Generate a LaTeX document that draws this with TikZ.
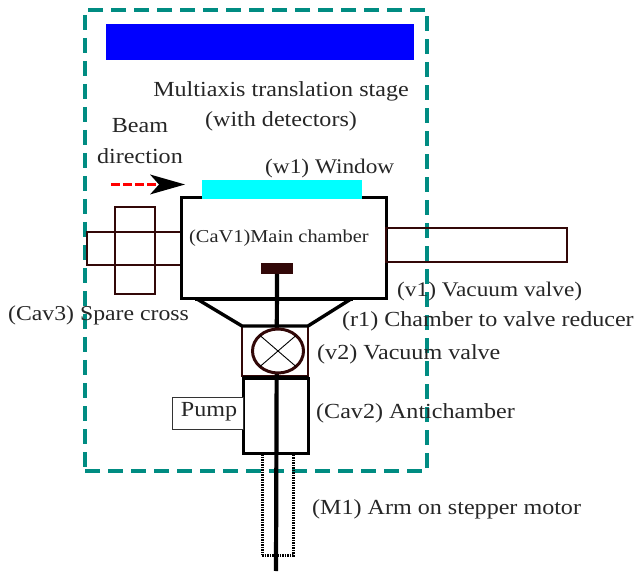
\documentclass[tikz,border=0pt]{standalone}
\usepackage{fontspec}
\setmainfont[FakeStretch=1.12]{Liberation Serif}
\usetikzlibrary{arrows.meta,shapes.geometric}
\definecolor{tealdash}{RGB}{0,140,130}
\definecolor{darkbrown}{RGB}{50,8,8}
\definecolor{purecyan}{RGB}{0,255,255}
\definecolor{pureblue}{RGB}{0,0,255}
\definecolor{purered}{RGB}{255,0,0}
\tikzset{
  lab/.style={anchor=west,inner sep=0pt,font=\fontsize{21.5}{21.5}\selectfont,text=black!85},
  midlab/.style={anchor=center,inner sep=0pt,font=\fontsize{21.5}{21.5}\selectfont,text=black!85},
  pipe/.style={draw=darkbrown,line width=2.2pt},
  vessel/.style={draw=black,line width=3pt,fill=white},
  rect/.style={minimum width=0pt,minimum height=0pt,inner sep=0pt,outer sep=0pt},
  thick line/.style={line width=4.2pt,draw=black}
}
\begin{document}
\begin{tikzpicture}[x=1pt,y=-1pt]
\useasboundingbox (0,0) rectangle (635,572);
% outer stage outline and blue bar
\node[rect,draw=tealdash,line width=3.2pt,dash pattern=on 15pt off 8pt,minimum width=342pt,minimum height=461pt] (stage) at (256,240.5) {};
\node[rect,fill=pureblue,minimum width=308pt,minimum height=36pt] (bar) at (260,42) {};
% cross
\node[rect,pipe,minimum width=94pt,minimum height=33pt] (crossH) at (134,248.5) {};
\node[rect,pipe,minimum width=40pt,minimum height=87pt] (crossV) at (135,250.5) {};
% main chamber
\node[rect,vessel,minimum width=205pt,minimum height=101pt] (main) at (283.5,248.5) {};
\node[rect,fill=purecyan,minimum width=160pt,minimum height=19pt] (window) at (282,189.5) {};
% right valve
\node[rect,draw=darkbrown,line width=2.8pt,minimum width=181pt,minimum height=34pt] (v1) at (476.5,245) {};
% v2 valve
\node[rect,draw=darkbrown,line width=1.3pt,minimum width=66pt,minimum height=50pt] (v2) at (275,351) {};
% antichamber
\node[rect,vessel,minimum width=65pt,minimum height=75pt] (anti) at (275.5,415.5) {};
\node[rect,draw=black!80,line width=.9pt,minimum width=71pt,minimum height=32pt,fill=white] (pump) at (207.5,413) {};
\node[midlab] at (209,412) {Pump};
% dotted motor housing
\node[rect,draw=black,line width=3pt,dash pattern=on 1.5pt off 1pt,minimum width=31pt,minimum height=102pt] (housing) at (277.5,504) {};
% reducer
\coordinate (rTL) at (195,299);
\coordinate (rTR) at (353,299);
\draw[thick line] (rTL) -- (rTR);
\draw[line width=3.4pt] (197,299) -- (v2.north west) -- (v2.north east) -- (351,299);
% arm
\node[rect,fill=darkbrown,minimum width=32pt,minimum height=11pt] (sample) at (277,268.5) {};
\coordinate (armEnd) at (276,571);
\draw[thick line] (sample.south) -- (armEnd);
% valve symbol
\node[rect,ellipse,draw=darkbrown,line width=3pt,fill=white,minimum width=51pt,minimum height=44pt] (vsym) at (278,351) {};
\draw[line width=.9pt] (vsym.north west) -- (vsym.south east);
\draw[line width=.9pt] (vsym.north east) -- (vsym.south west);
\draw[line width=4.2pt] (anti.north west) -- (anti.north east);
% beam arrow
\coordinate (bS) at (111,184.5);
\coordinate (bE) at (161,184.5);
\draw[purered,line width=2.2pt,dash pattern=on 9pt off 3pt] (bS) -- (bE);
\fill (150,174.5) -- (185,184.5) -- (150,194.5) -- (159,184.5) -- cycle;
% labels
\node[midlab] (t1) at (281,91.5) {Multiaxis translation stage};
\node[midlab] (t2) at (281,121.5) {(with detectors)};
\node[midlab] (t3) at (140,126) {Beam};
\node[midlab] (t4) at (140,156) {direction};
\node[lab,font=\fontsize{20.8}{20.8}\selectfont] (t5) at (265,168) {(w1) Window};
\node[lab,font=\fontsize{18.2}{18.2}\selectfont] (t6) at (189,238) {(CaV1)Main chamber};
\node[lab,font=\fontsize{20.8}{20.8}\selectfont] (t7) at (397,291) {(v1) Vacuum valve)};
\node[lab] (t8) at (342,321) {(r1) Chamber to valve reducer};
\node[lab,font=\fontsize{21.2}{21.2}\selectfont] (t9) at (8,315) {(Cav3) Spare cross};
\node[lab] (t10) at (317,354) {(v2) Vacuum valve};
\node[lab] (t11) at (316,413) {(Cav2) Antichamber};
\node[lab] (t12) at (312,509) {(M1) Arm on stepper motor};
\end{tikzpicture}
\end{document}
